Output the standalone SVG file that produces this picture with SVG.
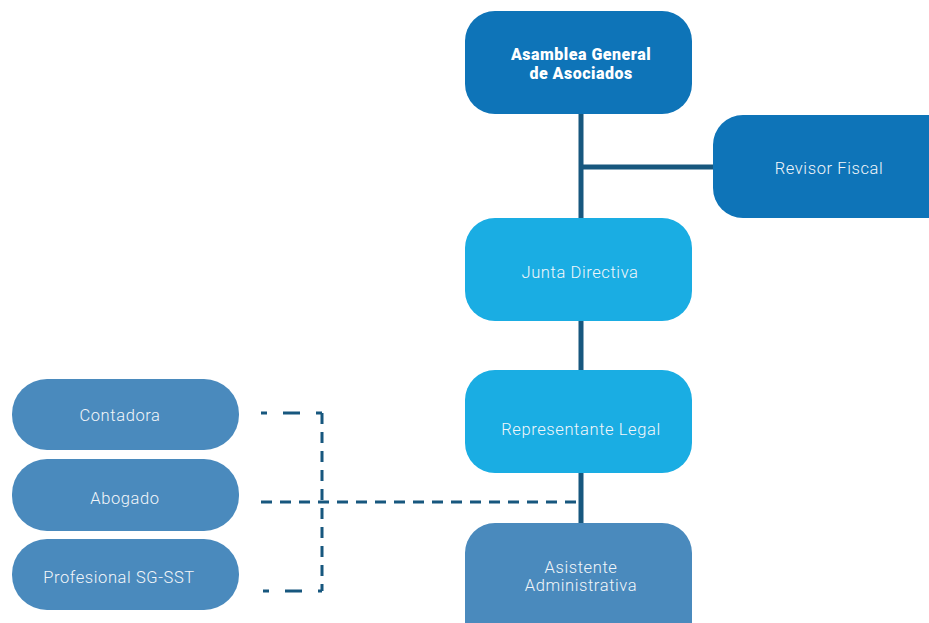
<svg xmlns="http://www.w3.org/2000/svg" width="929" height="623" viewBox="0 0 929 623">
<style>
.t{font-family:Roboto,"Liberation Sans",sans-serif;font-size:16.5px;font-weight:300;fill:#f2f6fa;text-anchor:middle;dominant-baseline:central;letter-spacing:0.6px}
.b{font-family:Roboto,"Liberation Sans",sans-serif;font-size:16px;font-weight:900;fill:#ffffff;text-anchor:middle;letter-spacing:0.5px}
.dk{fill:#0e74b8}
.lt{fill:#1aade3}
.md{fill:#4a8abd}
.solid{stroke:#17577e;stroke-width:5;fill:none}
.dash{stroke:#17577e;stroke-width:3;fill:none;stroke-dasharray:11 8}
</style>
<rect width="929" height="623" fill="#ffffff"/>
<g id="connectors">
<line class="solid" x1="581" y1="112" x2="581" y2="525"/>
<line class="solid" x1="581" y1="167" x2="715" y2="167"/>
<line class="dash" x1="261" y1="413" x2="322" y2="413" style="stroke-dasharray:6 16 17 16 6"/>
<line class="dash" x1="322" y1="413" x2="322" y2="591"/>
<line class="dash" x1="261" y1="502" x2="579" y2="502"/>
<line class="dash" x1="263" y1="591" x2="322" y2="591" style="stroke-dasharray:6 16 17 16 6"/>
</g>
<g id="asamblea"><rect class="dk" x="465" y="11" width="227" height="103" rx="30"/><text class="b" x="581" y="60">Asamblea General</text><text class="b" x="581" y="78.5">de Asociados</text></g>
<g id="revisor"><rect class="dk" x="713" y="115" width="250" height="103" rx="30"/><text class="t" x="829" y="168">Revisor Fiscal</text></g>
<g id="junta"><rect class="lt" x="465" y="218" width="227" height="103" rx="30"/><text class="t" x="580" y="272">Junta Directiva</text></g>
<g id="representante"><rect class="lt" x="465" y="370" width="227" height="103" rx="30"/><text class="t" x="581" y="429">Representante Legal</text></g>
<g id="asistente"><rect class="md" x="465" y="523" width="227" height="130" rx="30"/><text class="t" x="581" y="567">Asistente</text><text class="t" x="581" y="585">Administrativa</text></g>
<g id="contadora"><rect class="md" x="12" y="379" width="227" height="71" rx="35"/><text class="t" x="120" y="415">Contadora</text></g>
<g id="abogado"><rect class="md" x="12" y="459" width="227" height="72" rx="35"/><text class="t" x="125" y="498">Abogado</text></g>
<g id="profesional"><rect class="md" x="12" y="539" width="227" height="71" rx="35"/><text class="t" x="119" y="577">Profesional SG-SST</text></g>
</svg>
